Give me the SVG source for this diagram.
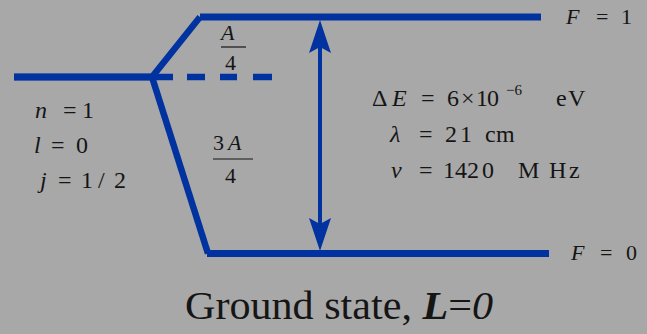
<svg xmlns="http://www.w3.org/2000/svg" width="647" height="334" viewBox="0 0 647 334">
<style>
.lv{fill:none;stroke:#0033a0;stroke-width:7;stroke-linejoin:miter;stroke-linecap:butt}
.dg{fill:none;stroke:#0033a0;stroke-width:6.5;stroke-linejoin:miter}
.ar{fill:#0033a0}
.t{font-family:"Liberation Serif","Times New Roman",serif;font-size:24px;fill:#151515}
.i{font-style:italic}
.f{font-size:22px}
.fr{stroke:#151515;stroke-width:1.2}
</style>
<rect width="647" height="334" fill="#a8a8a8"/>
<g id="connectors">
<path class="dg" d="M14 77H152L200 17"/>
<path class="dg" d="M152 77L208 253.5"/>
<path class="dg" d="M152 77H173M187 77H205M220 77H237M253 77H272" stroke-width="7"/>
<rect class="ar" x="318" y="45" width="4" height="182"/>
<path class="ar" d="M320 20L331 53L320 47L309 53Z"/>
<path class="ar" d="M320 251L331 218L320 224L309 218Z"/>
</g>
<g id="level-unsplit">
<path class="lv" d="M14 77H152"/>
<text class="t"><tspan class="i" x="35" y="118">n</tspan><tspan x="63" y="118">=</tspan><tspan x="82" y="118">1</tspan></text>
<text class="t"><tspan class="i" x="34" y="153">l</tspan><tspan x="51" y="153">=</tspan><tspan x="76" y="153">0</tspan></text>
<text class="t"><tspan class="i" x="40" y="188">j</tspan><tspan x="58" y="188">=</tspan><tspan x="81" y="188">1</tspan><tspan x="98" y="188">/</tspan><tspan x="114" y="188">2</tspan></text>
</g>
<g id="level-F1">
<path class="lv" d="M200 17H541"/>
<text class="t f"><tspan class="i" x="566" y="24">F</tspan><tspan x="596" y="24">=</tspan><tspan x="621" y="24">1</tspan></text>
</g>
<g id="level-F0">
<path class="lv" d="M207 253.5H549"/>
<text class="t f"><tspan class="i" x="571" y="260">F</tspan><tspan x="600" y="260">=</tspan><tspan x="626" y="260">0</tspan></text>
</g>
<g id="fraction-A4">
<text class="t f i" x="221" y="40">A</text>
<line class="fr" x1="221" y1="47" x2="246" y2="47"/>
<text class="t f" x="225" y="70">4</text>
</g>
<g id="fraction-3A4">
<text class="t f"><tspan x="213" y="150">3</tspan><tspan class="i" x="228" y="150">A</tspan></text>
<line class="fr" x1="213" y1="159" x2="253" y2="159"/>
<text class="t f" x="225" y="183">4</text>
</g>
<g id="transition-values">
<text class="t"><tspan x="372" y="106">Δ</tspan><tspan class="i" x="392" y="106">E</tspan><tspan x="421" y="106">=</tspan><tspan x="447" y="106">6</tspan><tspan x="461" y="106">×</tspan><tspan x="476" y="106">1</tspan><tspan x="487" y="106">0</tspan><tspan x="506" y="95" font-size="15">−6</tspan><tspan x="556" y="106">e</tspan><tspan x="568" y="106">V</tspan></text>
<text class="t"><tspan class="i" x="390" y="142">λ</tspan><tspan x="419" y="142">=</tspan><tspan x="445" y="142">2</tspan><tspan x="460" y="142">1</tspan><tspan x="485" y="142">c</tspan><tspan x="496" y="142">m</tspan></text>
<text class="t"><tspan class="i" x="391" y="178">ν</tspan><tspan x="419" y="178">=</tspan><tspan x="443" y="178">1</tspan><tspan x="455" y="178">4</tspan><tspan x="467" y="178">2</tspan><tspan x="482" y="178">0</tspan><tspan x="518" y="178">M</tspan><tspan x="549" y="178">H</tspan><tspan x="569" y="178">z</tspan></text>
</g>
<g id="title">
<text class="t" x="185" y="319" textLength="308" lengthAdjust="spacingAndGlyphs" style="font-size:41px">Ground state, <tspan font-weight="bold" font-style="italic">L</tspan>=<tspan font-style="italic">0</tspan></text>
</g>
</svg>
